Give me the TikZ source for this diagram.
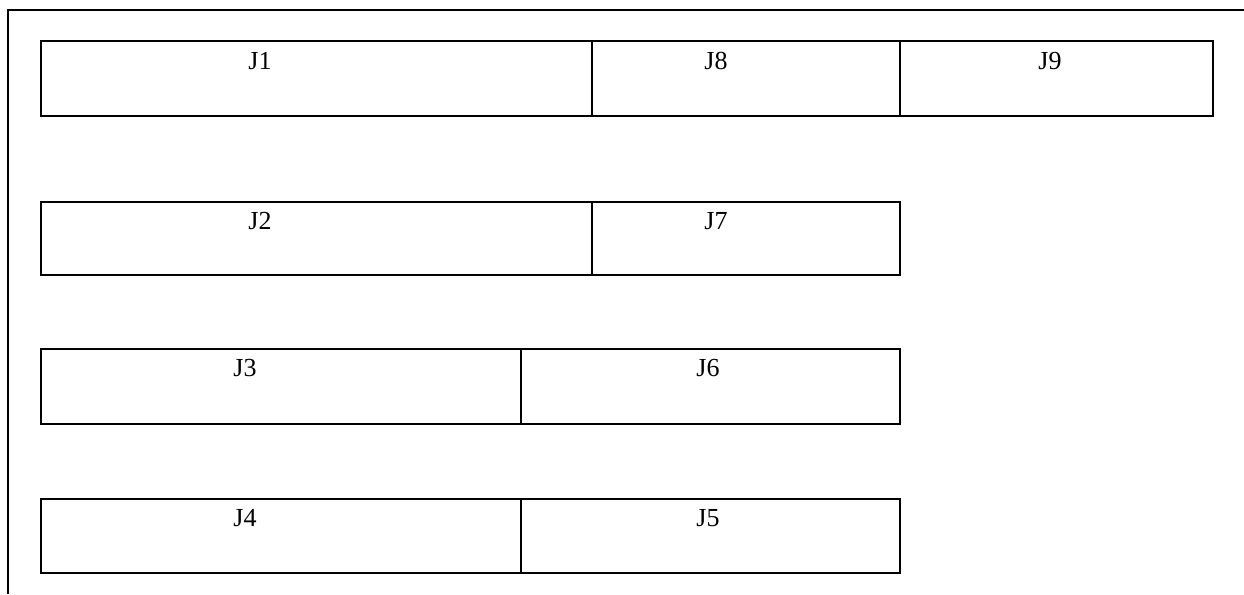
\documentclass[tikz,border=0pt]{standalone}
\usepackage{fontspec}
\setmainfont{Liberation Serif}
\begin{document}
\begin{tikzpicture}[x=1pt,y=-1pt,
  cell/.style={draw=black,line width=1.6pt,inner sep=0pt},
  lab/.style={anchor=base,inner sep=0pt,font=\fontsize{26}{26}\selectfont}]
\useasboundingbox (0,0) rectangle (1244,594);
% outer frame (top and left only)
\coordinate (fl) at (8,594);
\coordinate (ft) at (8,10);
\coordinate (fr) at (1244,10);
\draw[line width=1.8pt] (fl) -- (ft) -- (fr);
% row 1
\node[cell,minimum width=551pt,minimum height=75pt] (c1) at (316.5,78.5) {};
\node[cell,minimum width=308pt,minimum height=75pt] (c8) at (746,78.5) {};
\node[cell,minimum width=313pt,minimum height=75pt] (c9) at (1056.5,78.5) {};
% row 2
\node[cell,minimum width=551pt,minimum height=73pt] (c2) at (316.5,238.5) {};
\node[cell,minimum width=308pt,minimum height=73pt] (c7) at (746,238.5) {};
% row 3
\node[cell,minimum width=480pt,minimum height=75pt] (c3) at (281,386.5) {};
\node[cell,minimum width=379pt,minimum height=75pt] (c6) at (710.5,386.5) {};
% row 4
\node[cell,minimum width=480pt,minimum height=74pt] (c4) at (281,536) {};
\node[cell,minimum width=379pt,minimum height=74pt] (c5) at (710.5,536) {};
% labels
\node[lab] (t1) at (260,70) {J1};
\node[lab] (t8) at (716,70) {J8};
\node[lab] (t9) at (1050,70) {J9};
\node[lab] (t2) at (260,229) {J2};
\node[lab] (t7) at (716,229) {J7};
\node[lab] (t3) at (245,376) {J3};
\node[lab] (t6) at (708,376) {J6};
\node[lab] (t4) at (245,526) {J4};
\node[lab] (t5) at (708,526) {J5};
\end{tikzpicture}
\end{document}
